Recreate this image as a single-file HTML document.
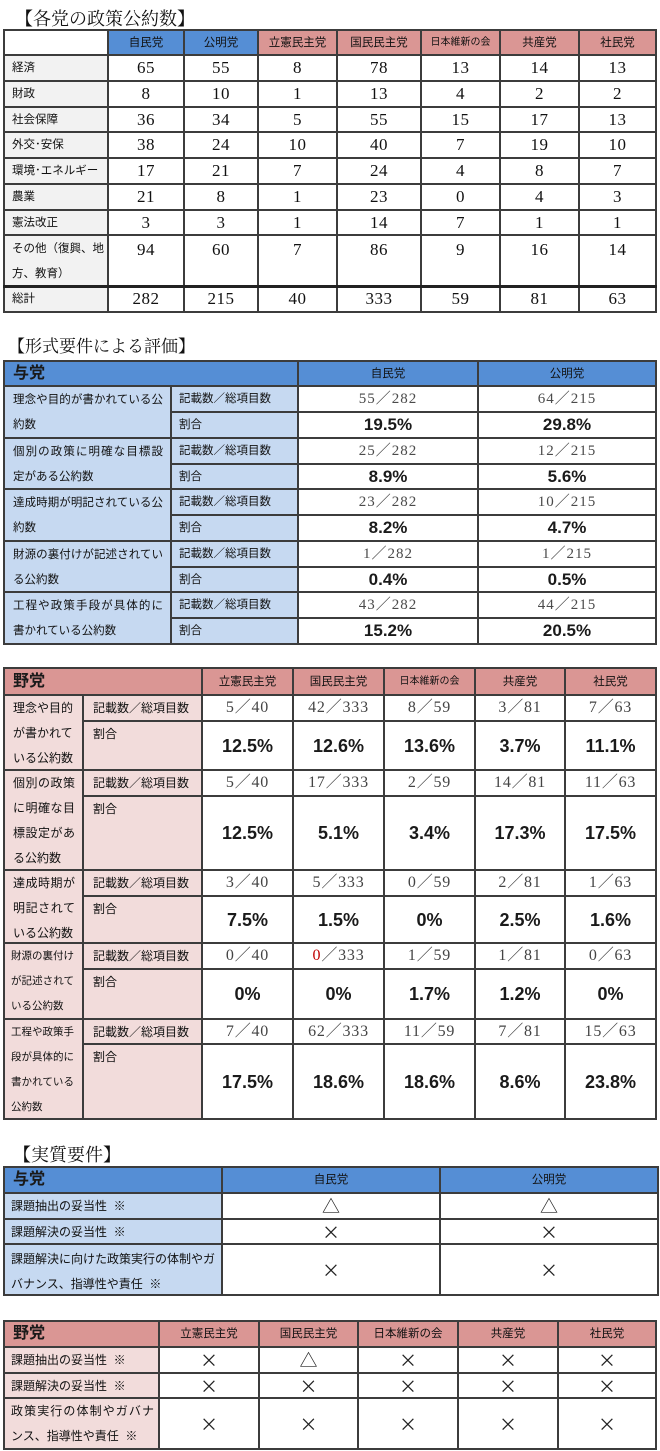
<!DOCTYPE html>
<html><head><meta charset="utf-8"><style>
*{margin:0;padding:0;box-sizing:border-box}
html,body{width:660px;height:1451px;background:#fff;overflow:hidden}
body{position:relative;font-family:"Liberation Sans","Noto Sans CJK JP",sans-serif;color:#222}
.ttl{position:absolute;font-family:"Liberation Serif","Noto Serif CJK SC",serif;line-height:18px;color:#111;white-space:nowrap}
table{position:absolute;border-collapse:collapse;table-layout:fixed}
td{border:2px solid #3c3c3c;padding:0;vertical-align:middle;white-space:nowrap}
.bl{background:#558ed5}
.pk{background:#da9694}
.lb{background:#c6d9f1}
.lp{background:#f2dcdb}
.gr{background:#f2f2f2}
.hd{text-align:center;font-size:11.5px;line-height:18px;color:#111}
.sec{font-size:16px;font-weight:bold;padding-left:8px;line-height:20px;color:#1a1a1a}
.lab{font-size:11.5px;padding-left:7px;line-height:20px;color:#111}
.n{font-family:"Liberation Serif",serif;font-size:17px;text-align:center;line-height:20px;letter-spacing:0.5px;color:#111}
.fr{font-family:"Liberation Serif","Noto Sans CJK JP",serif;font-size:15px;text-align:center;color:#4a4a4a;line-height:20px;letter-spacing:1px}
.fr3{font-family:"Liberation Serif","Noto Sans CJK JP",serif;font-size:16px;text-align:center;color:#444;line-height:20px;letter-spacing:0.8px}
.pc{font-weight:bold;font-size:17px;text-align:center;line-height:20px;color:#1a1a1a}
.pc3{font-weight:bold;font-size:18px;text-align:center;line-height:20px;color:#1a1a1a}
.top{vertical-align:top}
.ml{height:10px;overflow:visible;white-space:normal}
.ml div{line-height:25px;white-space:nowrap}
.ml div.j{text-align:justify;text-align-last:justify;white-space:normal}
.mk{text-align:center;font-family:"Noto Sans CJK JP",sans-serif;font-size:18px;line-height:20px;color:#222}
.red{color:#c00000}
</style></head><body>

<div class="ttl" style="left:15px;top:10px;font-size:18px">【各党の政策公約数】</div>

<table style="left:3px;top:29px;width:652px">
<col style="width:104px"><col style="width:76px"><col style="width:74px"><col style="width:79px"><col style="width:84px"><col style="width:79px"><col style="width:79px"><col style="width:77px">
<tr style="height:25px"><td></td><td class="bl hd">自民党</td><td class="bl hd">公明党</td><td class="pk hd">立憲民主党</td><td class="pk hd">国民民主党</td><td class="pk hd" style="font-size:10px">日本維新の会</td><td class="pk hd">共産党</td><td class="pk hd">社民党</td></tr>
<tr style="height:26px"><td class="gr lab">経済</td><td class="n">65</td><td class="n">55</td><td class="n">8</td><td class="n">78</td><td class="n">13</td><td class="n">14</td><td class="n">13</td></tr>
<tr style="height:26px"><td class="gr lab">財政</td><td class="n">8</td><td class="n">10</td><td class="n">1</td><td class="n">13</td><td class="n">4</td><td class="n">2</td><td class="n">2</td></tr>
<tr style="height:25px"><td class="gr lab">社会保障</td><td class="n">36</td><td class="n">34</td><td class="n">5</td><td class="n">55</td><td class="n">15</td><td class="n">17</td><td class="n">13</td></tr>
<tr style="height:26px"><td class="gr lab">外交･安保</td><td class="n">38</td><td class="n">24</td><td class="n">10</td><td class="n">40</td><td class="n">7</td><td class="n">19</td><td class="n">10</td></tr>
<tr style="height:26px"><td class="gr lab">環境･エネルギー</td><td class="n">17</td><td class="n">21</td><td class="n">7</td><td class="n">24</td><td class="n">4</td><td class="n">8</td><td class="n">7</td></tr>
<tr style="height:26px"><td class="gr lab">農業</td><td class="n">21</td><td class="n">8</td><td class="n">1</td><td class="n">23</td><td class="n">0</td><td class="n">4</td><td class="n">3</td></tr>
<tr style="height:25px"><td class="gr lab">憲法改正</td><td class="n">3</td><td class="n">3</td><td class="n">1</td><td class="n">14</td><td class="n">7</td><td class="n">1</td><td class="n">1</td></tr>
<tr style="height:51px"><td class="gr lab top"><div class="ml" style="padding-top:1px"><div>その他（復興、地</div><div>方、教育）</div></div></td><td class="n top"><div class="ml" style="padding-top:1px"><div>94</div></div></td><td class="n top"><div class="ml" style="padding-top:1px"><div>60</div></div></td><td class="n top"><div class="ml" style="padding-top:1px"><div>7</div></div></td><td class="n top"><div class="ml" style="padding-top:1px"><div>86</div></div></td><td class="n top"><div class="ml" style="padding-top:1px"><div>9</div></div></td><td class="n top"><div class="ml" style="padding-top:1px"><div>16</div></div></td><td class="n top"><div class="ml" style="padding-top:1px"><div>14</div></div></td></tr>
<tr style="height:26px;border-top:3px solid #222"><td class="gr lab" style="border-top:3px solid #222">総計</td><td class="n" style="border-top:3px solid #222">282</td><td class="n" style="border-top:3px solid #222">215</td><td class="n" style="border-top:3px solid #222">40</td><td class="n" style="border-top:3px solid #222">333</td><td class="n" style="border-top:3px solid #222">59</td><td class="n" style="border-top:3px solid #222">81</td><td class="n" style="border-top:3px solid #222">63</td></tr>
</table>

<div class="ttl" style="left:8px;top:338px;font-size:17px">【形式要件による評価】</div>

<table style="left:3px;top:360px;width:652px">
<col style="width:167px"><col style="width:127px"><col style="width:180px"><col style="width:178px">
<tr style="height:25px"><td colspan="2" class="bl sec">与党</td><td class="bl hd">自民党</td><td class="bl hd">公明党</td></tr>
<tr style="height:26px"><td rowspan="2" class="lb lab top" style="padding-left:8px"><div class="ml" style="padding-top:1px"><div class="j" style="width:150px">理念や目的が書かれている公</div><div>約数</div></div></td><td class="lb lab">記載数／総項目数</td><td class="fr">55／282</td><td class="fr">64／215</td></tr>
<tr style="height:26px"><td class="lb lab">割合</td><td class="pc">19.5%</td><td class="pc">29.8%</td></tr>
<tr style="height:26px"><td rowspan="2" class="lb lab top" style="padding-left:8px"><div class="ml" style="padding-top:1px"><div class="j" style="width:150px">個別の政策に明確な目標設</div><div>定がある公約数</div></div></td><td class="lb lab">記載数／総項目数</td><td class="fr">25／282</td><td class="fr">12／215</td></tr>
<tr style="height:25px"><td class="lb lab">割合</td><td class="pc">8.9%</td><td class="pc">5.6%</td></tr>
<tr style="height:26px"><td rowspan="2" class="lb lab top" style="padding-left:8px"><div class="ml" style="padding-top:1px"><div class="j" style="width:150px">達成時期が明記されている公</div><div>約数</div></div></td><td class="lb lab">記載数／総項目数</td><td class="fr">23／282</td><td class="fr">10／215</td></tr>
<tr style="height:26px"><td class="lb lab">割合</td><td class="pc">8.2%</td><td class="pc">4.7%</td></tr>
<tr style="height:26px"><td rowspan="2" class="lb lab top" style="padding-left:8px"><div class="ml" style="padding-top:1px"><div class="j" style="width:150px">財源の裏付けが記述されてい</div><div>る公約数</div></div></td><td class="lb lab">記載数／総項目数</td><td class="fr">1／282</td><td class="fr">1／215</td></tr>
<tr style="height:25px"><td class="lb lab">割合</td><td class="pc">0.4%</td><td class="pc">0.5%</td></tr>
<tr style="height:26px"><td rowspan="2" class="lb lab top" style="padding-left:8px"><div class="ml" style="padding-top:1px"><div class="j" style="width:150px">工程や政策手段が具体的に</div><div>書かれている公約数</div></div></td><td class="lb lab">記載数／総項目数</td><td class="fr">43／282</td><td class="fr">44／215</td></tr>
<tr style="height:26px"><td class="lb lab">割合</td><td class="pc">15.2%</td><td class="pc">20.5%</td></tr>
</table>

<table style="left:3px;top:667px;width:652px">
<col style="width:79px"><col style="width:119px"><col style="width:91px"><col style="width:91px"><col style="width:91px"><col style="width:90px"><col style="width:91px">
<tr style="height:27px"><td colspan="2" class="pk sec">野党</td><td class="pk hd">立憲民主党</td><td class="pk hd">国民民主党</td><td class="pk hd" style="font-size:10px">日本維新の会</td><td class="pk hd">共産党</td><td class="pk hd">社民党</td></tr>

<tr style="height:26px"><td rowspan="2" class="lp lab top" style="padding-left:8px;font-size:12px"><div class="ml"><div>理念や目的</div><div>が書かれて</div><div>いる公約数</div></div></td><td class="lp lab" style="padding-left:9px;font-size:12px">記載数／総項目数</td><td class="fr3">5／40</td><td class="fr3">42／333</td><td class="fr3">8／59</td><td class="fr3">3／81</td><td class="fr3">7／63</td></tr>
<tr style="height:49px"><td class="lp lab top" style="padding-left:9px;font-size:12px"><div class="ml"><div>割合</div></div></td><td class="pc3">12.5%</td><td class="pc3">12.6%</td><td class="pc3">13.6%</td><td class="pc3">3.7%</td><td class="pc3">11.1%</td></tr>

<tr style="height:26px"><td rowspan="2" class="lp lab top" style="padding-left:8px;font-size:12px"><div class="ml"><div class="j" style="width:62px">個別の政策</div><div class="j" style="width:62px">に明確な目</div><div class="j" style="width:62px">標設定があ</div><div>る公約数</div></div></td><td class="lp lab" style="padding-left:9px;font-size:12px">記載数／総項目数</td><td class="fr3">5／40</td><td class="fr3">17／333</td><td class="fr3">2／59</td><td class="fr3">14／81</td><td class="fr3">11／63</td></tr>
<tr style="height:74px"><td class="lp lab top" style="padding-left:9px;font-size:12px"><div class="ml"><div>割合</div></div></td><td class="pc3">12.5%</td><td class="pc3">5.1%</td><td class="pc3">3.4%</td><td class="pc3">17.3%</td><td class="pc3">17.5%</td></tr>

<tr style="height:26px"><td rowspan="2" class="lp lab top" style="padding-left:8px;font-size:12px"><div class="ml"><div class="j" style="width:62px">達成時期が</div><div class="j" style="width:62px">明記されて</div><div>いる公約数</div></div></td><td class="lp lab" style="padding-left:9px;font-size:12px">記載数／総項目数</td><td class="fr3">3／40</td><td class="fr3">5／333</td><td class="fr3">0／59</td><td class="fr3">2／81</td><td class="fr3">1／63</td></tr>
<tr style="height:47px"><td class="lp lab top" style="padding-left:9px;font-size:12px"><div class="ml"><div>割合</div></div></td><td class="pc3">7.5%</td><td class="pc3">1.5%</td><td class="pc3">0%</td><td class="pc3">2.5%</td><td class="pc3">1.6%</td></tr>

<tr style="height:26px"><td rowspan="2" class="lp lab top" style="padding-left:6px;font-size:10.5px"><div class="ml"><div class="j" style="width:63px">財源の裏付け</div><div class="j" style="width:63px">が記述されて</div><div>いる公約数</div></div></td><td class="lp lab" style="padding-left:9px;font-size:12px">記載数／総項目数</td><td class="fr3">0／40</td><td class="fr3"><span class="red">0</span>／333</td><td class="fr3">1／59</td><td class="fr3">1／81</td><td class="fr3">0／63</td></tr>
<tr style="height:50px"><td class="lp lab top" style="padding-left:9px;font-size:12px"><div class="ml"><div>割合</div></div></td><td class="pc3">0%</td><td class="pc3">0%</td><td class="pc3">1.7%</td><td class="pc3">1.2%</td><td class="pc3">0%</td></tr>

<tr style="height:25px"><td rowspan="2" class="lp lab top" style="padding-left:6px;font-size:10.5px"><div class="ml"><div class="j" style="width:63px">工程や政策手</div><div class="j" style="width:63px">段が具体的に</div><div class="j" style="width:63px">書かれている</div><div>公約数</div></div></td><td class="lp lab" style="padding-left:9px;font-size:12px">記載数／総項目数</td><td class="fr3">7／40</td><td class="fr3">62／333</td><td class="fr3">11／59</td><td class="fr3">7／81</td><td class="fr3">15／63</td></tr>
<tr style="height:75px"><td class="lp lab top" style="padding-left:9px;font-size:12px"><div class="ml"><div>割合</div></div></td><td class="pc3">17.5%</td><td class="pc3">18.6%</td><td class="pc3">18.6%</td><td class="pc3">8.6%</td><td class="pc3">23.8%</td></tr>
</table>

<div class="ttl" style="left:13px;top:1146px;font-size:18px">【実質要件】</div>

<table style="left:3px;top:1166px;width:654px">
<col style="width:218px"><col style="width:218px"><col style="width:218px">
<tr style="height:26px"><td class="bl sec">与党</td><td class="bl hd">自民党</td><td class="bl hd">公明党</td></tr>
<tr style="height:26px"><td class="lb lab" style="padding-left:6px;font-size:12px">課題抽出の妥当性&nbsp;&nbsp;※</td><td class="mk">△</td><td class="mk">△</td></tr>
<tr style="height:25px"><td class="lb lab" style="padding-left:6px;font-size:12px">課題解決の妥当性&nbsp;&nbsp;※</td><td class="mk">×</td><td class="mk">×</td></tr>
<tr style="height:51px"><td class="lb lab top" style="padding-left:6px;font-size:12px"><div class="ml" style="padding-top:2px"><div>課題解決に向けた政策実行の体制やガ</div><div>バナンス、指導性や責任&nbsp;&nbsp;※</div></div></td><td class="mk">×</td><td class="mk">×</td></tr>
</table>

<table style="left:3px;top:1320px;width:652px">
<col style="width:155px"><col style="width:100px"><col style="width:99px"><col style="width:100px"><col style="width:100px"><col style="width:98px">
<tr style="height:26px"><td class="pk sec">野党</td><td class="pk hd">立憲民主党</td><td class="pk hd">国民民主党</td><td class="pk hd">日本維新の会</td><td class="pk hd">共産党</td><td class="pk hd">社民党</td></tr>
<tr style="height:26px"><td class="lp lab" style="padding-left:6px;font-size:12px">課題抽出の妥当性&nbsp;&nbsp;※</td><td class="mk">×</td><td class="mk">△</td><td class="mk">×</td><td class="mk">×</td><td class="mk">×</td></tr>
<tr style="height:25px"><td class="lp lab" style="padding-left:6px;font-size:12px">課題解決の妥当性&nbsp;&nbsp;※</td><td class="mk">×</td><td class="mk">×</td><td class="mk">×</td><td class="mk">×</td><td class="mk">×</td></tr>
<tr style="height:51px"><td class="lp lab top" style="padding-left:6px;font-size:12px"><div class="ml"><div class="j" style="width:143px">政策実行の体制やガバナ</div><div>ンス、指導性や責任&nbsp;&nbsp;※</div></div></td><td class="mk">×</td><td class="mk">×</td><td class="mk">×</td><td class="mk">×</td><td class="mk">×</td></tr>
</table>

</body></html>
